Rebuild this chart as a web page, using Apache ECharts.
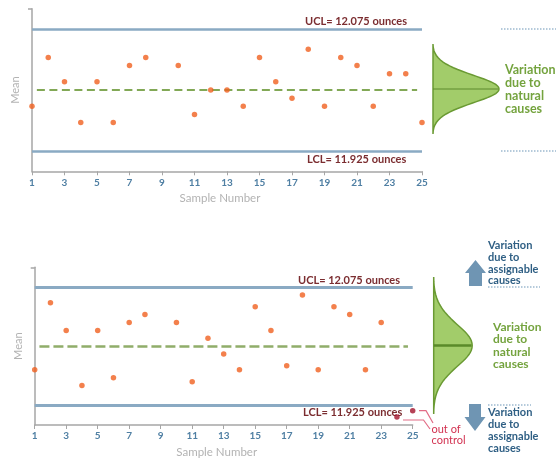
<!DOCTYPE html>
<html><head><meta charset="utf-8">
<script src="https://cdn.jsdelivr.net/npm/echarts@6/dist/echarts.min.js"></script>
<style>html,body{margin:0;padding:0;background:#fff}#c{width:556px;height:458px}</style>
</head><body><div id="c"></div>
<script>
// ---- data ----
const samples = [1,2,3,4,5,6,7,8,9,10,11,12,13,14,15,16,17,18,19,20,21,22,23,24,25];
const meansTop = [11.98,12.04,12.01,11.96,12.01,11.96,12.03,12.04,null,12.03,11.97,12.00,12.00,11.98,12.04,12.01,11.99,12.05,11.98,12.04,12.03,11.98,12.02,12.02,11.96];
const meansBottom = [11.97,12.055,12.02,11.95,12.02,11.96,12.03,12.04,null,12.03,11.955,12.01,11.99,11.97,12.05,12.02,11.975,12.065,11.97,12.05,12.04,11.97,12.03,11.91,11.918];
const xTickLabels = [1,3,5,7,9,11,13,15,17,19,21,23,25];
const UCL = 12.075, LCL = 11.925, CENTER = 12.0;
const yRange = [11.9, 12.1];
const uclText = 'UCL= 12.075 ounces';
const lclText = 'LCL= 11.925 ounces';
const naturalText = ['Variation','due to','natural','causes'];
const assignText = ['Variation','due to','assignable','causes'];
const oocText = ['out of','control'];

const FONT = 'Lato, "Open Sans", sans-serif';
const AX = '#a6a6a6';

function xAxisCfg(gi){
  return {type:'value', gridIndex:gi, min:1, max:25, interval:2,
    name:'Sample Number', nameLocation:'middle', nameGap:21,
    nameTextStyle:{color:'#b3b3b3', fontSize:11.5, fontFamily:FONT, padding:[0,14,0,0]},
    axisLine:{show:true, onZero:false, lineStyle:{color:AX, width:1.5}},
    axisTick:{show:true, length:4, customValues:xTickLabels, lineStyle:{color:AX, width:1}},
    axisLabel:{color:'#4f7fa3', fontWeight:'bold', fontSize:10, margin:6, fontFamily:FONT, customValues:xTickLabels},
    splitLine:{show:false}};
}
function yAxisCfg(gi){
  return {type:'value', gridIndex:gi, min:yRange[0], max:yRange[1],
    name:'Mean', nameLocation:'middle', nameGap:11, nameRotate:90,
    nameTextStyle:{color:'#b3b3b3', fontSize:11, fontFamily:FONT},
    axisLine:{show:true, onZero:false, lineStyle:{color:AX, width:1.5}},
    axisTick:{show:true, length:4, customValues:[yRange[1]], lineStyle:{color:AX, width:1.5}},
    axisLabel:{show:false}, splitLine:{show:false}};
}
function limitLines(w, dash, dashW, dashColor, c0, c1){
  return {silent:true, symbol:['none','none'], label:{show:false}, animation:false,
    data:[
      [{coord:[1,UCL], lineStyle:{color:'#8aaac3', width:w, type:'solid'}},{coord:[25,UCL]}],
      [{coord:[1,LCL], lineStyle:{color:'#8aaac3', width:w, type:'solid'}},{coord:[25,LCL]}],
      [{coord:[c0,CENTER], lineStyle:{color:dashColor, width:dashW, type:dash}},{coord:[c1,CENTER]}]
    ]};
}
function pts(arr, inCtrl){
  const out=[];
  arr.forEach((v,i)=>{ if(v==null) return; const ok = v>=LCL && v<=UCL; if(ok===inCtrl) out.push([samples[i], v]); });
  return out;
}
function cubic(p0,p1,p2,p3,n){
  const r=[];
  for(let k=1;k<=n;k++){const t=k/n,a=1-t;
    r.push([a*a*a*p0[0]+3*a*a*t*p1[0]+3*a*t*t*p2[0]+t*t*t*p3[0], a*a*a*p0[1]+3*a*a*t*p1[1]+3*a*t*t*p2[1]+t*t*t*p3[1]]);}
  return r;
}
function bell(x0, yc, w, h){
  const P=(u,v)=>[x0+u*w, yc+v*h];
  let pts=[P(0,-1)];
  pts=pts.concat(cubic(P(0,-1),P(0,-0.65),P(0.208,-0.51),P(0.6,-0.31),14));
  pts=pts.concat(cubic(P(0.6,-0.31),P(0.796,-0.21),P(1,-0.12),P(1,0),10));
  pts=pts.concat(cubic(P(1,0),P(1,0.12),P(0.796,0.21),P(0.6,0.31),10));
  pts=pts.concat(cubic(P(0.6,0.31),P(0.208,0.51),P(0,0.65),P(0,1),14));
  return pts;
}
function textBlock(lines, x, top, lh, size, color){
  return {type:'text', x:x, y:top, silent:true,
    style:{text:lines.join('\n'), fill:color, font:'bold '+size+'px '+FONT, lineHeight:lh, verticalAlign:'top', align:'left'}};
}
function label(t, x, yc, size){
  return {type:'text', x:x, y:yc, silent:true,
    style:{text:t, fill:'#7b2d30', font:'bold '+size+'px '+FONT, verticalAlign:'middle', align:'left'}};
}
function dotted(x1,x2,y){
  return {type:'line', silent:true, shape:{x1:x1,y1:y,x2:x2,y2:y}, style:{stroke:'#9db9cf', lineWidth:1.5, lineDash:[1.5,1.5]}};
}
const BELL_FILL='#a2cc6a', BELL_STROKE='#6a9a33', GREEN_TXT='#74a33e', BLUE_TXT='#2f5f84', ARROW='#6f95b3';

const graphic = [
  // top chart annotations
  label(uclText, 305, 21, 11), label(lclText, 307, 159, 11),
  dotted(501, 556, 29), dotted(501, 556, 151),
  {type:'polygon', silent:true, shape:{points:bell(433,89,66,45)}, style:{fill:BELL_FILL, stroke:BELL_STROKE, lineWidth:1.5}},
  {type:'line', silent:true, shape:{x1:433,y1:89,x2:498,y2:89}, style:{stroke:'#5d8a2c', lineWidth:1}},
  textBlock(naturalText, 505, 63.5, 13, 12.5, GREEN_TXT),
  // bottom chart annotations
  label(uclText, 298, 280.5, 11), label(lclText, 303, 412.5, 11),
  {type:'polygon', silent:true, shape:{points:bell(433.7,345.5,38.5,68.5)}, style:{fill:BELL_FILL, stroke:BELL_STROKE, lineWidth:1.5}},
  {type:'line', silent:true, shape:{x1:433.7,y1:345.5,x2:471.5,y2:345.5}, style:{stroke:'#5a8a2a', lineWidth:2.5}},
  textBlock(naturalText, 493, 320.4, 12.5, 12, GREEN_TXT),
  textBlock(assignText, 488, 239.9, 11.7, 11, BLUE_TXT),
  textBlock(assignText, 488, 406.8, 11.8, 11, BLUE_TXT),
  dotted(488, 540, 287), dotted(488, 531, 405),
  {type:'polygon', silent:true, shape:{points:[[475.5,260],[486,273],[482,273],[482,286],[469,286],[469,273],[465,273]]}, style:{fill:ARROW}},
  {type:'polygon', silent:true, shape:{points:[[469,404],[481,404],[481,417],[485.5,417],[475,431],[464.5,417],[469,417]]}, style:{fill:ARROW}},
  {type:'polyline', silent:true, shape:{points:[[419,410.7],[426,410.7],[433,423]]}, style:{stroke:'#e26c86', lineWidth:1.2, fill:null}},
  {type:'polyline', silent:true, shape:{points:[[403,420],[423.5,420],[430,429]]}, style:{stroke:'#e26c86', lineWidth:1.2, fill:null}},
  {type:'text', x:431.5, y:424, silent:true, style:{text:oocText.join('\n'), fill:'#d2304f', font:'11px '+FONT, lineHeight:11, verticalAlign:'top', align:'left'}}
];

const option = {
  animation:false,
  grid:[
    {left:32, top:8.7, width:390, height:162.6, outerBoundsMode:'none', containLabel:false},
    {left:34.7, top:267.3, width:378, height:157.7, outerBoundsMode:'none', containLabel:false}
  ],
  xAxis:[xAxisCfg(0), xAxisCfg(1)],
  yAxis:[yAxisCfg(0), yAxisCfg(1)],
  series:[
    {type:'scatter', xAxisIndex:0, yAxisIndex:0, symbolSize:5.5, itemStyle:{color:'#f0601f'}, data:pts(meansTop,true), z:5,
     markLine:limitLines(2.5,[8,4.5],2,'#82a856',1.3,24.7)},
    {type:'scatter', xAxisIndex:0, yAxisIndex:0, symbolSize:5.5, itemStyle:{color:'#a3132c'}, data:pts(meansTop,false), z:5},
    {type:'scatter', xAxisIndex:1, yAxisIndex:1, symbolSize:5.5, itemStyle:{color:'#f0601f'}, data:pts(meansBottom,true), z:5,
     markLine:limitLines(3,[10,4],2.5,'#90ad6a',1.3,24.7)},
    {type:'scatter', xAxisIndex:1, yAxisIndex:1, symbolSize:5.5, itemStyle:{color:'#a3132c'}, data:pts(meansBottom,false), z:5}
  ],
  graphic:graphic
};
const chart = echarts.init(document.getElementById('c'), null, {renderer:'canvas'});
chart.setOption(option);
</script>
</body></html>
